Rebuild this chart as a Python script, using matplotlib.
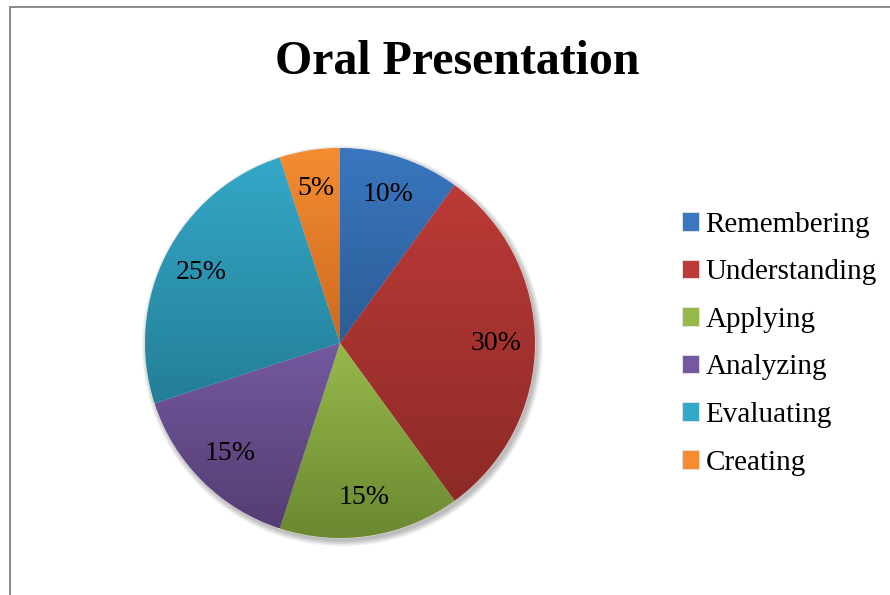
import numpy as np
import matplotlib
matplotlib.use("Agg")
import matplotlib.pyplot as plt
from matplotlib.colors import LinearSegmentedColormap
from matplotlib.patches import Circle

plt.rcParams['font.family'] = ['Liberation Serif', 'DejaVu Serif']

title = "Oral Presentation"
categories = ["Remembering", "Understanding", "Applying", "Analyzing", "Evaluating", "Creating"]
shares = [10, 30, 15, 15, 25, 5]
top_colors = ["#3A77C0", "#BC3A37", "#97B94B", "#7559A0", "#34A8C8", "#F58C31"]
bottom_colors = ["#2C5C95", "#8C2A27", "#6B8831", "#543D72", "#247E97", "#CC6A1F"]

fig = plt.figure(figsize=(8.9, 5.95), dpi=100)

# chart frame (only top and left edges visible)
fig.add_artist(plt.Line2D([10 / 890, 1], [1 - 7 / 595] * 2, color="#8a8a8a", lw=1.4))
fig.add_artist(plt.Line2D([10 / 890] * 2, [0, 1 - 7 / 595], color="#8a8a8a", lw=1.4))

fig.text(457 / 890, 1 - 74 / 595, title, ha="center", va="baseline",
         fontsize=34.5, fontweight="bold")

ax = fig.add_axes([145 / 890, 57 / 595, 390 / 890, 390 / 595])

# soft shadow
for k in range(8):
    ax.add_patch(Circle((0.012, -0.015), 1.0 + 0.004 * k, color="black",
                        alpha=0.035, lw=0, zorder=0, clip_on=False))

wedges, texts, autotexts = ax.pie(
    shares, startangle=90, counterclock=False, radius=1,
    colors=top_colors, autopct=lambda p: f"{p:.0f}%", pctdistance=0.8,
    wedgeprops=dict(linewidth=0.6, edgecolor="#e8e8e8"),
    textprops=dict(fontsize=20, color="black"))

grad = np.linspace(0, 1, 256).reshape(-1, 1)
for w, c_top, c_bot in zip(wedges, top_colors, bottom_colors):
    ext = w.get_path().get_extents()
    cmap = LinearSegmentedColormap.from_list("g", [c_bot, c_top])
    im = ax.imshow(grad, cmap=cmap, origin="lower", aspect="auto",
                   extent=[ext.x0, ext.x1, ext.y0, ext.y1], zorder=1.5)
    im.set_clip_path(w)
for t in autotexts:
    t.set_zorder(3)

ax.set_xlim(-1, 1)
ax.set_ylim(-1, 1)
ax.set_aspect("equal")
ax.axis("off")

fig.legend(wedges, categories, loc="upper left",
           bbox_to_anchor=(670 / 890, 1 - 200 / 595), frameon=False,
           fontsize=21, handlelength=0.6, handleheight=0.6,
           handletextpad=0.22, labelspacing=0.74, borderaxespad=0)

fig.savefig("out.png", dpi=100)
